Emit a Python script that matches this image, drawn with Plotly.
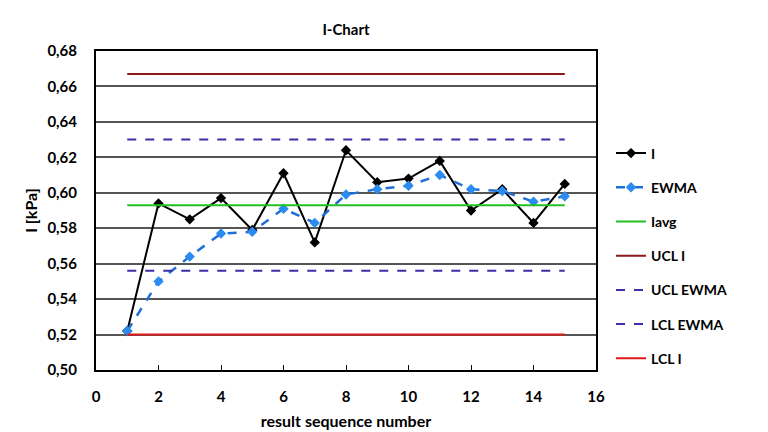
import plotly.graph_objects as go

seq = list(range(1, 16))
i_vals = [0.522, 0.594, 0.585, 0.597, 0.579, 0.611, 0.572, 0.624, 0.606, 0.608, 0.618, 0.590, 0.602, 0.583, 0.605]
ewma_vals = [0.522, 0.550, 0.564, 0.577, 0.578, 0.591, 0.583, 0.599, 0.602, 0.604, 0.610, 0.602, 0.601, 0.595, 0.598]
iavg = 0.593
ucl_i = 0.667
ucl_ewma = 0.630
lcl_ewma = 0.556
lcl_i = 0.520

FONT = "Lato"

fig = go.Figure()

def hline(val, name, color, dash, grp):
    fig.add_trace(go.Scatter(x=[seq[0], seq[-1]], y=[val, val], mode="lines", name=name,
                             line=dict(color=color, width=2, dash=dash), legendgroup=grp))

fig.add_trace(go.Scatter(x=seq, y=i_vals, mode="lines+markers", name="I",
                         line=dict(color="black", width=2),
                         marker=dict(symbol="diamond", size=8, color="black"), legendgroup="g1"))
fig.add_trace(go.Scatter(x=seq, y=ewma_vals, mode="lines+markers", name="EWMA",
                         line=dict(color="#1f6fd6", width=2.5, dash="dash"),
                         marker=dict(symbol="diamond", size=8, color="#2a8cf0"), legendgroup="g2"))
hline(iavg, "Iavg", "#22c022", "solid", "g3")
hline(ucl_i, "UCL I", "#8b1a1a", "solid", "g4")
hline(ucl_ewma, "UCL EWMA", "#3a2fa8", "dash", "g5")
hline(lcl_ewma, "LCL EWMA", "#3a2fa8", "dash", "g6")
hline(lcl_i, "LCL I", "#e01818", "solid", "g7")

fig.update_layout(
    width=768, height=432,
    margin=dict(l=96, r=172, t=51, b=62),
    paper_bgcolor="white", plot_bgcolor="white",
    font=dict(family=FONT, color="black", size=14),
    title=dict(text="<b>I-Chart</b>", x=(96 + 250) / 768, xanchor="center", y=1 - 30 / 432, yanchor="middle",
               font=dict(size=15)),
    showlegend=True,
    legend=dict(x=1.03, xanchor="left", y=(370 - 256) / 319, yanchor="middle", tracegroupgap=13,
                font=dict(size=14, family=FONT, weight="bold"), bgcolor="rgba(0,0,0,0)"),
    xaxis=dict(range=[0, 16], dtick=2, showgrid=False, zeroline=False, automargin=False,
               showline=True, linecolor="black", linewidth=2, mirror=True,
               ticks="inside", ticklen=5, tickcolor="black", ticklabelstandoff=12,
               tickfont=dict(size=15, family=FONT, weight="bold"),
               title=dict(text="<b>result sequence number</b>", font=dict(size=16), standoff=12)),
    yaxis=dict(range=[0.50, 0.68], dtick=0.02, tickformat=".2f", showgrid=True, automargin=False,
               gridcolor="#555555", gridwidth=1.5, zeroline=False,
               showline=True, linecolor="black", linewidth=2, mirror=True,
               ticks="", ticklabelstandoff=14, tickfont=dict(size=15, family=FONT, weight="bold"),
               title=dict(text="<b>I [kPa]</b>", font=dict(size=16), standoff=6)),
    separators=",.",
)

fig.write_html("out.html")
